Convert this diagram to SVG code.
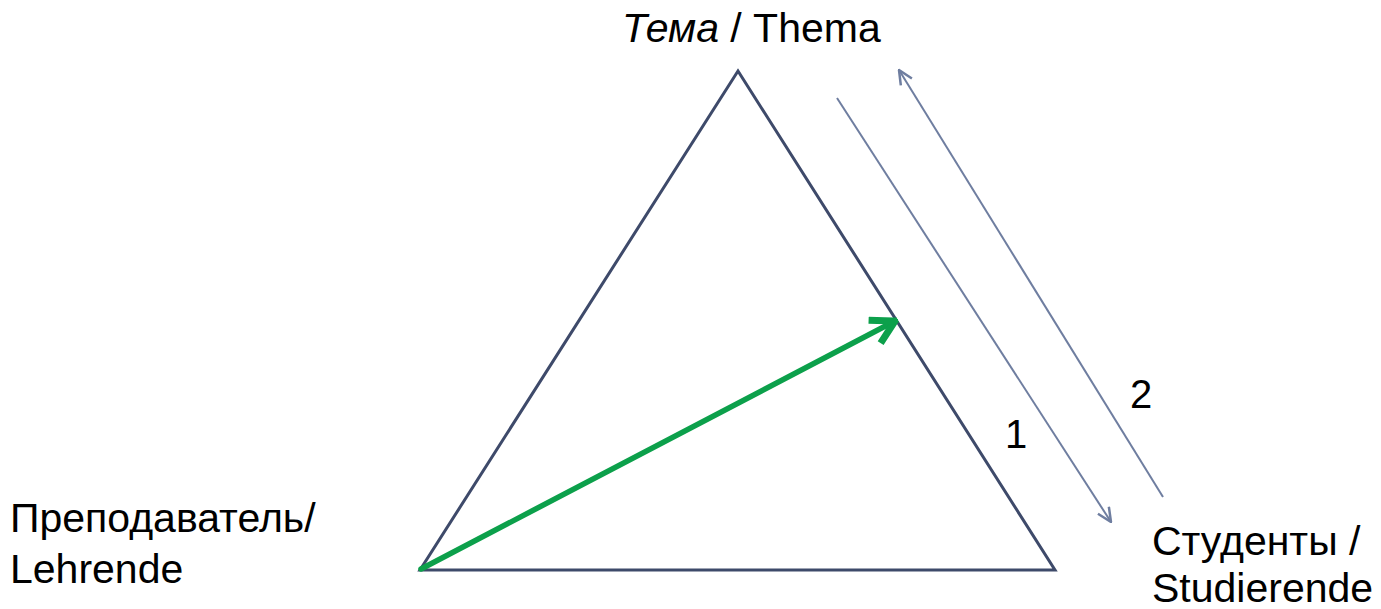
<svg xmlns="http://www.w3.org/2000/svg" width="1381" height="609" viewBox="0 0 1381 609">
<style>
.t{font-family:"Liberation Sans",Arial,sans-serif;font-size:41px;fill:#000}
.n{font-family:"Liberation Sans",Arial,sans-serif;font-size:40px;fill:#000}
.tri{fill:none;stroke:#3e4a6a;stroke-width:3;stroke-linejoin:miter}
.thin{fill:none;stroke:#6f7ea0;stroke-width:2}
.green{fill:none;stroke:#0ca04b;stroke-width:5.5;stroke-linecap:round}
</style>
<defs>
<marker id="ah" viewBox="0 0 16 16" refX="15" refY="8" markerWidth="16" markerHeight="16" markerUnits="userSpaceOnUse" orient="auto-start-reverse">
<path d="M1,1.5 L15,8 L1,14.5" fill="none" stroke="#6f7ea0" stroke-width="2.5"/>
</marker>
<marker id="gh" viewBox="0 0 32 32" refX="29" refY="16" markerWidth="32" markerHeight="32" markerUnits="userSpaceOnUse" orient="auto">
<path d="M6,3 L29,16 L6,29" fill="none" stroke="#0ca04b" stroke-width="7" stroke-linejoin="miter"/>
</marker>
</defs>
<rect width="1381" height="609" fill="#fff"/>
<g id="triangle">
<path class="tri" d="M738,71 L1055,570 L420,570 Z"/>
</g>
<g id="connectors">
<line class="green" x1="421" y1="569" x2="895" y2="321" marker-end="url(#gh)"/>
<line class="thin" x1="837" y1="98" x2="1111" y2="522" marker-end="url(#ah)"/>
<line class="thin" x1="1163" y1="497" x2="899" y2="70" marker-end="url(#ah)"/>
</g>
<g id="label-thema">
<text class="t" x="622" y="42"><tspan font-style="italic">Тема</tspan> / Thema</text>
</g>
<g id="label-lehrende">
<text class="t" x="10" y="532">Преподаватель/</text>
<text class="t" x="10" y="583">Lehrende</text>
</g>
<g id="label-studierende">
<text class="t" x="1152" y="555">Студенты /</text>
<text class="t" x="1152" y="602">Studierende</text>
</g>
<g id="label-1"><text class="n" x="1005" y="448">1</text></g>
<g id="label-2"><text class="n" x="1130" y="408">2</text></g>
</svg>
